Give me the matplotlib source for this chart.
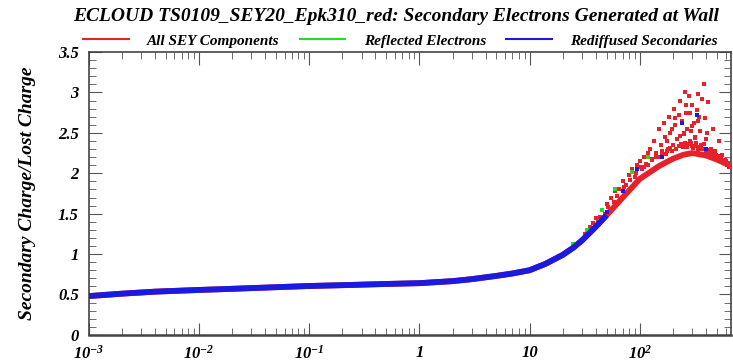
import numpy as np
import matplotlib
matplotlib.use("Agg")
import matplotlib.pyplot as plt
from matplotlib.lines import Line2D
from matplotlib.ticker import FixedLocator, LogLocator, MultipleLocator, NullFormatter

plt.rcParams["font.family"] = "Liberation Serif"
plt.rcParams["font.weight"] = "bold"
plt.rcParams["font.style"] = "italic"
plt.rcParams["axes.labelweight"] = "bold"
plt.rcParams["mathtext.fontset"] = "custom"
plt.rcParams["mathtext.rm"] = "Liberation Serif:italic:bold"
plt.rcParams["mathtext.it"] = "Liberation Serif:italic:bold"
plt.rcParams["mathtext.bf"] = "Liberation Serif:italic:bold"

# incident energy (eV) vs yield along the main band
curve_e = [0.001, 0.002, 0.004, 0.01, 0.02, 0.05, 0.1, 0.2, 0.5, 1, 2, 3, 5, 7, 10,
           14, 20, 25, 30, 40, 50, 70, 100, 150, 200, 250, 300, 400, 500, 650]
curve_y = [0.48, 0.51, 0.535, 0.556, 0.57, 0.59, 0.605, 0.615, 0.63, 0.64, 0.665, 0.69,
           0.73, 0.76, 0.80, 0.88, 0.99, 1.08, 1.17, 1.34, 1.48, 1.70, 1.93, 2.09,
           2.18, 2.23, 2.25, 2.22, 2.17, 2.10]

# rediffused band stops where the total takes over
redif_e = curve_e[:21]
redif_y = curve_y[:21]

# scattered points of the total yield, (energy, yield)
all_pts = [
    (32, 1.25), (35, 1.33), (38, 1.38), (40, 1.45), (42, 1.40), (45, 1.55), (48, 1.50),
    (50, 1.62), (55, 1.70), (58, 1.65), (60, 1.78), (65, 1.80), (70, 1.90), (75, 1.85),
    (80, 1.98), (85, 2.05), (90, 1.95), (95, 2.10), (100, 2.15), (105, 2.05), (110, 2.20),
    (115, 2.12), (120, 2.25), (125, 2.30), (130, 2.18), (135, 2.40), (140, 2.25), (150, 2.55),
    (155, 2.35), (160, 2.22), (165, 2.62), (170, 2.45), (180, 2.30), (185, 2.70), (190, 2.50),
    (200, 2.35), (205, 2.80), (210, 2.60), (220, 2.42), (230, 2.90), (240, 2.65), (250, 2.48),
    (260, 3.00), (265, 2.75), (270, 2.55), (280, 2.95), (290, 2.38), (300, 2.85), (310, 2.62),
    (320, 2.45), (330, 2.78), (340, 2.98), (350, 2.52), (360, 2.35), (380, 3.10), (390, 2.68),
    (400, 2.42), (420, 2.88), (440, 2.30), (460, 2.55), (480, 2.28), (500, 2.20), (520, 2.40),
    (560, 2.22), (600, 2.15), (640, 2.10),
    (110, 2.08), (140, 2.20), (175, 2.28), (215, 2.30), (245, 2.33), (275, 2.36), (315, 2.34),
    (345, 2.32), (375, 2.30), (410, 2.27), (450, 2.25), (490, 2.22), (540, 2.18), (580, 2.14),
    (620, 2.10),
    (36, 1.30), (44, 1.46), (52, 1.58), (62, 1.72), (72, 1.83), (82, 1.92), (92, 2.00),
    (102, 2.08), (118, 2.10), (128, 2.16), (145, 2.20), (158, 2.27), (172, 2.24), (188, 2.31),
    (198, 2.28), (225, 2.34), (235, 2.36), (255, 2.38), (268, 2.32), (285, 2.40), (295, 2.34),
    (305, 2.31), (325, 2.38), (335, 2.29), (355, 2.33), (370, 2.30), (385, 2.36), (395, 2.26),
    (415, 2.29), (430, 2.24), (470, 2.24), (510, 2.21), (530, 2.18), (550, 2.19), (570, 2.16),
    (590, 2.17), (610, 2.12), (630, 2.13), (650, 2.08),
    (195, 2.55), (228, 2.72), (262, 2.85), (298, 2.58), (338, 2.65), (365, 2.92),
    (405, 2.50), (178, 2.40), (208, 2.68), (252, 2.50), (288, 2.74), (318, 2.44),
    (348, 2.70), (292, 2.52), (232, 2.46),
]
all_e = [p[0] for p in all_pts]
all_y = [p[1] for p in all_pts]

# a few reflected / rediffused points inside the cloud
refl_e = [25, 33, 45, 60, 85, 120]
refl_y = [1.12, 1.30, 1.55, 1.80, 2.02, 2.20]
blue_e = [50, 70, 95, 160, 240, 330, 400]
blue_y = [1.52, 1.78, 2.05, 2.20, 2.62, 2.72, 2.30]

x_ticks = [1e-3, 1e-2, 1e-1, 1, 10, 100]
x_labels = [r"$10^{-3}$", r"$10^{-2}$", r"$10^{-1}$", "1", "10", r"$10^{2}$"]
y_ticks = [0, 0.5, 1, 1.5, 2, 2.5, 3, 3.5]
y_labels = ["0", "0.5", "1", "1.5", "2", "2.5", "3", "3.5"]

fig = plt.figure(figsize=(7.33, 3.64), dpi=100)
ax = fig.add_axes([0.121, 0.080, 0.876, 0.777])

red = "#e8202a"
green = "#22dd22"
blue = "#1a1ae0"

ax.plot(curve_e, curve_y, color=red, lw=4.2, solid_capstyle="butt", zorder=2)
ax.scatter(all_e, all_y, s=5, color=red, marker="s", lw=0, zorder=3)
ax.scatter(refl_e, refl_y, s=5, color=green, marker="s", lw=0, zorder=4)
ax.scatter(blue_e, blue_y, s=5, color=blue, marker="s", lw=0, zorder=4)
ax.plot(redif_e, redif_y, color=blue, lw=4.2, solid_capstyle="butt", zorder=5)

ax.set_xscale("log")
ax.set_xlim(1e-3, 670)
ax.set_ylim(0, 3.5)

ax.xaxis.set_major_locator(FixedLocator(x_ticks))
ax.set_xticklabels(x_labels)
ax.xaxis.set_minor_locator(LogLocator(base=10, subs=np.arange(2, 10)))
ax.xaxis.set_minor_formatter(NullFormatter())
ax.yaxis.set_major_locator(FixedLocator(y_ticks))
ax.set_yticklabels(y_labels)
ax.yaxis.set_minor_locator(MultipleLocator(0.1))

ax.tick_params(which="both", direction="in", top=True, right=True,
               labelsize=12, colors="#555555", labelcolor="black")
ax.tick_params(which="major", length=9, width=0.8)
ax.tick_params(which="minor", length=5, width=0.6)
ax.tick_params(axis="x", pad=7)
ax.tick_params(axis="y", pad=7)

for side in ax.spines.values():
    side.set_color("#444444")
    side.set_linewidth(1.2)
ax.spines["bottom"].set_linewidth(1.8)

ax.set_ylabel("Secondary Charge/Lost Charge", fontsize=14, fontweight="bold", labelpad=16)

fig.text(0.54, 0.955, "ECLOUD TS0109_SEY20_Epk310_red: Secondary Electrons Generated at Wall",
         ha="center", va="center", fontsize=14)

handles = [Line2D([], [], color=red, lw=1.5),
           Line2D([], [], color=green, lw=1.5),
           Line2D([], [], color=blue, lw=1.5)]
fig.legend(handles, ["All SEY Components", "Reflected Electrons", "Rediffused Secondaries"],
           loc="center", bbox_to_anchor=(0.546, 0.888), ncol=3, frameon=False,
           fontsize=11, handlelength=3, columnspacing=1.3, handletextpad=1.2)

fig.savefig("out.png", dpi=100)
